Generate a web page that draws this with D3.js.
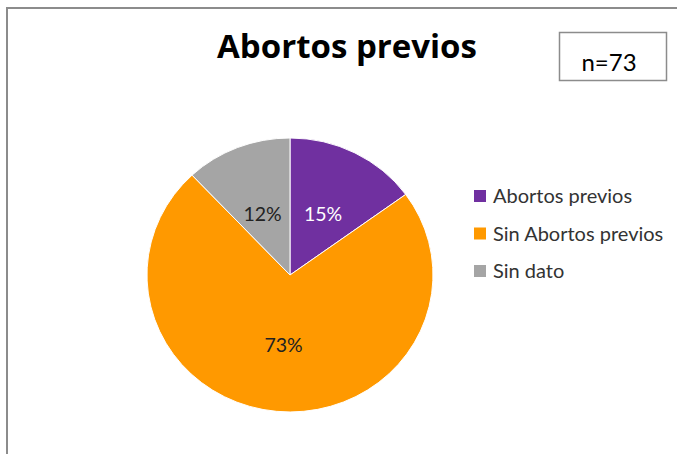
<!DOCTYPE html>
<html>
<head>
<meta charset="utf-8">
<script src="https://cdn.jsdelivr.net/npm/d3@7"></script>
<style>
  body { margin: 0; background: #fff; }
  text { font-family: Lato, "Open Sans", sans-serif; }
</style>
</head>
<body>
<div id="chart"></div>
<script>
const categories = ["Abortos previos", "Sin Abortos previos", "Sin dato"];
const percents = [15, 73, 12];
const colors = ["#7030A0", "#FF9900", "#A5A5A5"];
const labelColors = ["#ffffff", "#222222", "#222222"];

const width = 677;
const height = 454;

const svg = d3.select("#chart")
    .append("svg")
    .attr("width", width)
    .attr("height", height);

// outer frame (only top and left edges show in the crop)
svg.append("path")
    .attr("d", `M7,${height}V8H${width}`)
    .attr("fill", "none")
    .attr("stroke", "#8c8c8c")
    .attr("stroke-width", 2);

svg.append("text")
    .attr("x", 347)
    .attr("y", 58)
    .attr("text-anchor", "middle")
    .attr("font-size", 33)
    .attr("font-weight", "bold")
    .style("font-family", "'Open Sans', sans-serif")
    .attr("fill", "#000")
    .text("Abortos previos");

// n box
svg.append("rect")
    .attr("x", 559.5)
    .attr("y", 32.5)
    .attr("width", 107)
    .attr("height", 48)
    .attr("fill", "#fff")
    .attr("stroke", "#8c8c8c")
    .attr("stroke-width", 1.5);

svg.append("text")
    .attr("x", 609)
    .attr("y", 71)
    .attr("text-anchor", "middle")
    .attr("font-size", 24)
    .attr("fill", "#000")
    .text("n=73");

const rx = 143, ry = 137;
const pie = d3.pie().sort(null).value(d => d);
const arcs = pie(percents);
const arc = d3.arc().innerRadius(0).outerRadius(1);

const g = svg.append("g")
    .attr("transform", `translate(290,275)`);

g.append("g")
    .attr("transform", `scale(${rx},${ry})`)
    .selectAll("path")
    .data(arcs)
    .enter().append("path")
    .attr("d", arc)
    .attr("fill", (d, i) => colors[i])
    .attr("stroke", "#fff")
    .attr("stroke-width", 1 / rx);

const labelPos = [[33, -54], [-6.5, 77], [-27.5, -54]];
g.selectAll(".lbl")
    .data(arcs)
    .enter().append("text")
    .attr("class", "lbl")
    .attr("x", (d, i) => labelPos[i][0])
    .attr("y", (d, i) => labelPos[i][1])
    .attr("text-anchor", "middle")
    .attr("font-size", 19.5)
    .attr("fill", (d, i) => labelColors[i])
    .text(d => d.data + "%");

const legend = svg.append("g")
    .attr("transform", "translate(474,196)");

const rows = legend.selectAll("g")
    .data(categories)
    .enter().append("g")
    .attr("transform", (d, i) => `translate(0,${i * 37.5})`);

rows.append("rect")
    .attr("x", 0)
    .attr("y", -6)
    .attr("width", 12)
    .attr("height", 12)
    .attr("fill", (d, i) => colors[i]);

rows.append("text")
    .attr("x", 19)
    .attr("y", 7)
    .attr("font-size", 20)
    .attr("fill", "#333")
    .text(d => d);
</script>
</body>
</html>
